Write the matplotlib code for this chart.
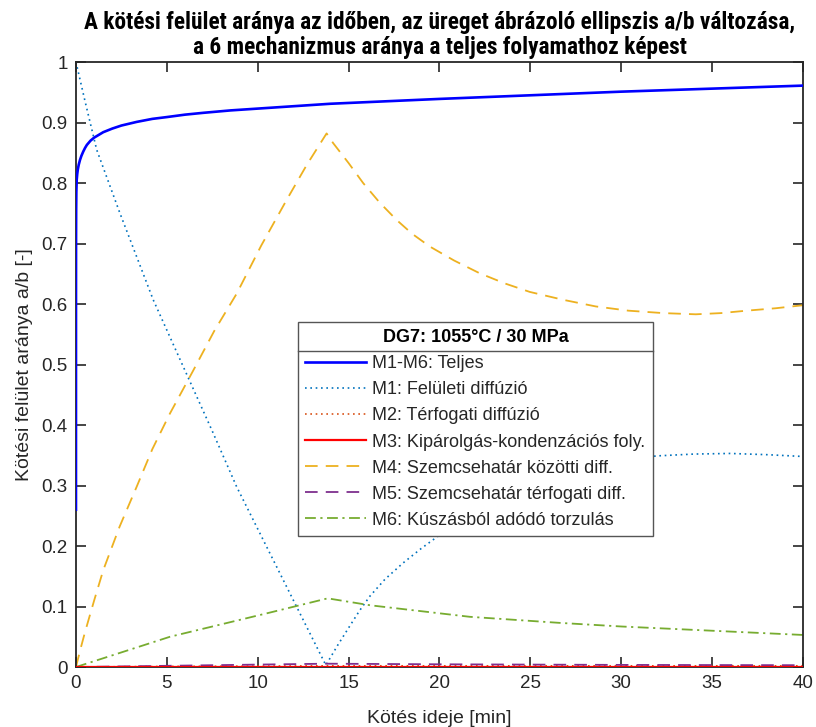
import numpy as np
import matplotlib
matplotlib.use("Agg")
import matplotlib.pyplot as plt
from matplotlib.lines import Line2D
from matplotlib import font_manager

# values (time in min)
t_total = [0, 0.002, 0.005, 0.01, 0.02, 0.04, 0.07, 0.1, 0.15, 0.22, 0.3, 0.4, 0.5, 0.6, 0.8,
           1.0, 1.5, 2.0, 2.5, 3.34, 4.2, 5.0, 6.0, 7.0, 8.5, 10.0, 12.0, 14.0, 17.0,
           20.0, 25.0, 30.0, 35.0, 40.0]
y_total = [0.26, 0.62, 0.71, 0.755, 0.785, 0.805, 0.815, 0.822, 0.83, 0.838, 0.845, 0.852,
           0.858, 0.863, 0.870, 0.875, 0.884, 0.890, 0.895, 0.901, 0.906, 0.909, 0.913,
           0.916, 0.920, 0.923, 0.927, 0.931, 0.935, 0.939, 0.945, 0.951, 0.956, 0.961]

t_m1 = [0, 0.5, 1.14, 2.42, 4.25, 6.0, 7.5, 8.84, 10.67, 12.5, 13.75, 14.4, 15.07, 15.6,
        16.17, 17.0, 18.0, 19.0, 20.0, 22.0, 24.0, 26.0, 28.0, 30.0, 32.0, 34.0, 36.0,
        38.0, 40.0]
y_m1 = [1.0, 0.935, 0.855, 0.750, 0.607, 0.49, 0.39, 0.298, 0.188, 0.078, 0.003, 0.036,
        0.068, 0.093, 0.117, 0.145, 0.172, 0.196, 0.218, 0.258, 0.29, 0.314, 0.331, 0.343,
        0.349, 0.352, 0.353, 0.351, 0.348]

t_m2 = [0, 5, 10, 13.8, 20, 30, 40]
y_m2 = [0, 0.001, 0.0015, 0.002, 0.002, 0.002, 0.002]

t_m3 = [0, 13.8, 40]
y_m3 = [0, 0, 0]

t_m4 = [0, 0.25, 0.5, 1.0, 1.5, 2.4, 3.34, 4.2, 5.17, 6.45, 7.6, 8.84, 10.2, 11.59, 12.7,
        13.79, 14.15, 15.0, 15.8, 16.7, 17.64, 18.5, 19.47, 20.8, 22.2, 23.6, 24.97, 26.8,
        28.6, 30.4, 32.3, 34.1, 35.5, 36.9, 38.5, 40]
y_m4 = [0, 0.03, 0.058, 0.11, 0.160, 0.232, 0.298, 0.36, 0.419, 0.49, 0.555, 0.617, 0.697,
        0.772, 0.83, 0.882, 0.866, 0.833, 0.80, 0.768, 0.739, 0.716, 0.695, 0.672, 0.651,
        0.634, 0.620, 0.607, 0.596, 0.589, 0.585, 0.583, 0.585, 0.589, 0.593, 0.598]

t_m5 = [0, 5, 10, 13.8, 20, 30, 40]
y_m5 = [0, 0.002, 0.004, 0.0055, 0.0045, 0.0035, 0.003]

t_m6 = [0, 5.17, 10.67, 13.85, 16.2, 21.67, 26.6, 30, 35, 40]
y_m6 = [0, 0.050, 0.090, 0.1135, 0.102, 0.083, 0.073, 0.067, 0.060, 0.053]

labels = ["M1-M6: Teljes", "M1: Felületi diffúzió", "M2: Térfogati diffúzió",
          "M3: Kipárolgás-kondenzációs foly.", "M4: Szemcsehatár közötti diff.",
          "M5: Szemcsehatár térfogati diff.", "M6: Kúszásból adódó torzulás"]

x_ticks = np.arange(0, 41, 5)
y_ticks = np.arange(0, 1.01, 0.1)
y_ticklabels = ["0", "0.1", "0.2", "0.3", "0.4", "0.5", "0.6", "0.7", "0.8", "0.9", "1"]

plt.rcParams['font.family'] = ['Liberation Sans', 'DejaVu Sans']
dark = '#262626'

# narrow bold font for the title if one is installed
installed = {f.name for f in font_manager.fontManager.ttflist}
title_family, title_size = ['Liberation Sans', 'DejaVu Sans'], 12.6
for cand in ['Liberation Sans Narrow', 'Roboto Condensed', 'Arial Narrow', 'Open Sans Condensed']:
    if cand in installed:
        title_family, title_size = [cand, 'DejaVu Sans'], 16.8
        break

fig = plt.figure(figsize=(8.16, 7.27), dpi=100)
ax = fig.add_axes([0.0931, 0.0825, 0.8909, 0.8322])

ax.plot(t_total, y_total, color='#0000FF', lw=1.9, label=labels[0], zorder=5)
ax.plot(t_m1, y_m1, color='#0072BD', lw=1.2, ls=(0, (1, 2.2)), label=labels[1])
ax.plot(t_m2, y_m2, color='#D95319', lw=1.2, ls=(0, (1, 2.2)), label=labels[2])
ax.plot(t_m3, y_m3, color='#FF0000', lw=1.6, label=labels[3], zorder=4)
ax.plot(t_m4, y_m4, color='#EDB120', lw=1.3, ls=(0, (7, 4.5)), label=labels[4])
ax.plot(t_m5, y_m5, color='#7E2F8E', lw=1.3, ls=(0, (7, 4.5)), label=labels[5])
ax.plot(t_m6, y_m6, color='#77AC30', lw=1.3, ls=(0, (6, 2.5, 1.2, 2.5)), label=labels[6])

ax.set_xlim(0, 40)
ax.set_ylim(0, 1)
ax.set_xticks(x_ticks)
ax.set_yticks(y_ticks)
ax.set_yticklabels(y_ticklabels)
ax.tick_params(direction='in', length=7, width=1.2, top=True, right=True,
               labelsize=13.5, colors=dark, pad=6)
for s in ax.spines.values():
    s.set_linewidth(1.3)
    s.set_color(dark)

ax.set_xlabel("Kötés ideje [min]", fontsize=14, color=dark, labelpad=13)
ax.set_ylabel("Kötési felület aránya a/b [-]", fontsize=14, color=dark, labelpad=6)

ax.set_title("A kötési felület aránya az időben, az üreget ábrázoló ellipszis a/b változása,\n"
             "a 6 mechanizmus aránya a teljes folyamathoz képest",
             fontsize=title_size, fontweight='bold', family=title_family,
             color='black', pad=6, linespacing=1.12)

leg = ax.legend(loc='upper left', bbox_to_anchor=(0.305, 0.2215, 0.489, 0.3485), mode='expand',
                borderaxespad=0, fontsize=13, title="DG7: 1055°C / 30 MPa",
                title_fontproperties={'weight': 'bold', 'size': 13},
                handlelength=3.4, handletextpad=0.3, labelspacing=0.5, borderpad=0.4,
                fancybox=False, framealpha=1, edgecolor='#555555')
leg.get_frame().set_linewidth(1.0)
for txt in leg.get_texts():
    txt.set_color(dark)

# separator line under the legend title
fig.canvas.draw()
r = fig.canvas.get_renderer()
lb = leg.get_window_extent(r)
tb = leg._legend_title_box.get_window_extent(r)
hb = leg._legend_handle_box.get_window_extent(r)
ysep = (tb.y0 + hb.y1) / 2
inv = fig.transFigure.inverted()
(x0, y0), (x1, _) = inv.transform([(lb.x0, ysep), (lb.x1, ysep)])
fig.add_artist(Line2D([x0, x1], [y0, y0], color='#555555', lw=1.0, zorder=10))

fig.savefig("out.png", dpi=100)
